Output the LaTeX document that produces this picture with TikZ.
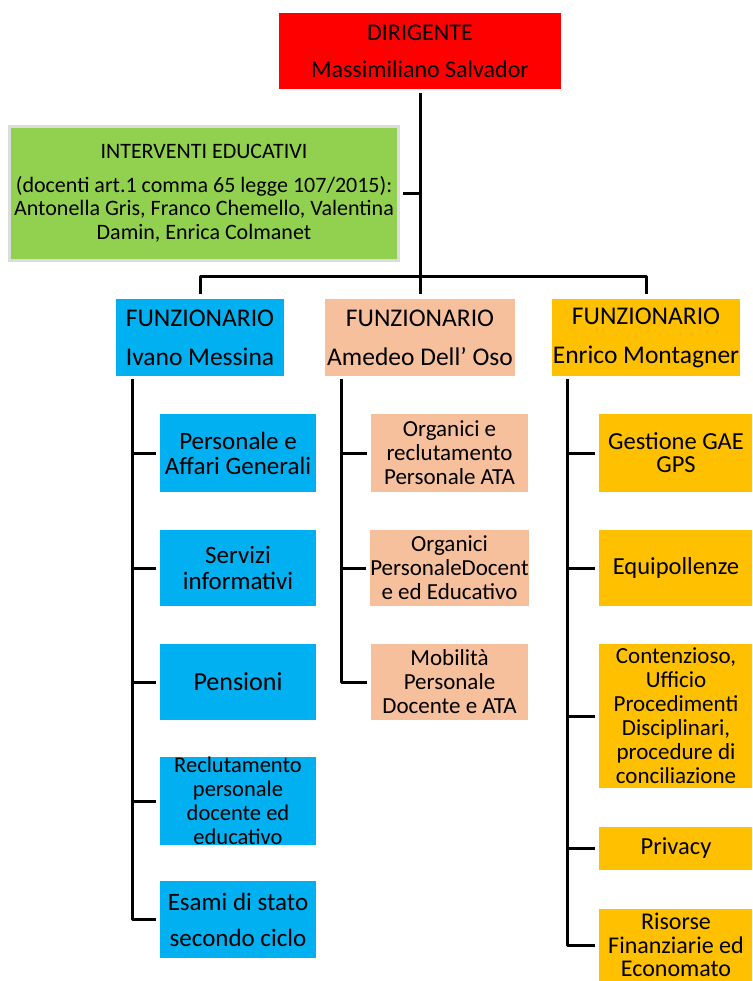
\documentclass[tikz,border=0pt]{standalone}
\usepackage{fontspec}
\setmainfont{Carlito}
\definecolor{cRed}{HTML}{FF0000}
\definecolor{cGreen}{HTML}{92D050}
\definecolor{cBlue}{HTML}{00B0F0}
\definecolor{cPeach}{HTML}{F6C09C}
\definecolor{cOrange}{HTML}{FFC000}
\definecolor{cBorder}{HTML}{DCDCDC}
\begin{document}
\begin{tikzpicture}[x=1pt,y=-1pt,
  box/.style={rectangle, inner sep=0pt, align=center, text=black},
  conn/.style={line width=3pt, line join=round, line cap=butt, draw=black},
  fhead/.style={font=\fontsize{25.5}{39}\selectfont},
  bluebox/.style={box, fill=cBlue},
  peachbox/.style={box, fill=cPeach},
  orangebox/.style={box, fill=cOrange}
]
\useasboundingbox (0,0) rectangle (752,981);
\clip (0,0) rectangle (752,981);
\fill[white] (0,0) rectangle (752,981);

% top
\node[box, fill=cRed, minimum width=282, minimum height=76,
      font=\fontsize{24}{37}\selectfont] (dir) at (420,51)
      {DIRIGENTE\\Massimiliano Salvador};
\node[box, fill=cGreen, draw=cBorder, line width=3pt, minimum width=389, minimum height=134,
      font=\fontsize{22}{23.5}\selectfont] (edu) at (204,193.5)
      {INTERVENTI EDUCATIVI\\[10pt](docenti art.1 comma 65 legge 107/2015):\\Antonella Gris, Franco Chemello, Valentina\\Damin, Enrica Colmanet};

% funzionari
\node[bluebox, fhead, minimum width=168, minimum height=77] (f1) at (200,337.5)
      {FUNZIONARIO\\Ivano Messina};
\node[peachbox, fhead, minimum width=190, minimum height=77] (f2) at (420,337.5)
      {FUNZIONARIO\\Amedeo Dell’ Oso};
\node[orangebox, fhead, minimum width=188, minimum height=77] (f3) at (646,337.5)
      {FUNZIONARIO\\Enrico Montagner};

% blue children
\node[bluebox, font=\fontsize{25}{25}\selectfont, minimum width=156, minimum height=78] (b1) at (238,453) {Personale e\\Affari Generali};
\node[bluebox, font=\fontsize{25}{26}\selectfont, minimum width=156, minimum height=76] (b2) at (238,568) {Servizi\\informativi};
\node[bluebox, font=\fontsize{26}{26}\selectfont, minimum width=156, minimum height=76] (b3) at (238,682) {Pensioni};
\node[bluebox, font=\fontsize{22.5}{24}\selectfont, minimum width=156, minimum height=86] (b4) at (238,801) {Reclutamento\\personale\\docente ed\\educativo};
\node[bluebox, font=\fontsize{25}{36}\selectfont, minimum width=156, minimum height=77] (b5) at (238,919.5) {Esami di stato\\secondo ciclo};

% peach children
\node[peachbox, font=\fontsize{23}{24}\selectfont, minimum width=157, minimum height=78] (p1) at (449.5,453) {Organici e\\reclutamento\\Personale ATA};
\node[peachbox, font=\fontsize{23}{24}\selectfont, minimum width=157, minimum height=76] (p2) at (449.5,568) {Organici\\PersonaleDocent\\e ed Educativo};
\node[peachbox, font=\fontsize{23}{24}\selectfont, minimum width=157, minimum height=76] (p3) at (449.5,682) {Mobilità\\Personale\\Docente e ATA};

% orange children
\node[orangebox, font=\fontsize{24.5}{23}\selectfont, minimum width=154, minimum height=78] (o1) at (676,453) {Gestione GAE\\GPS};
\node[orangebox, font=\fontsize{24.5}{24}\selectfont, minimum width=154, minimum height=76] (o2) at (676,568) {Equipollenze};
\node[orangebox, font=\fontsize{23}{24}\selectfont, minimum width=154, minimum height=144] (o3) at (676,716) {Contenzioso,\\Ufficio\\Procedimenti\\Disciplinari,\\procedure di\\conciliazione};
\node[orangebox, font=\fontsize{24.5}{24}\selectfont, minimum width=154, minimum height=43] (o4) at (676,848.5) {Privacy};
\node[orangebox, font=\fontsize{24}{23.5}\selectfont, minimum width=154, minimum height=72] (o5) at (676,945) {Risorse\\Finanziarie ed\\Economato};

% connectors
\coordinate (bar) at (420,277);
\draw[conn] ([yshift=-4pt]dir.south) -- (bar);
\draw[conn] ([xshift=3pt]edu.east) -- (edu.east -| bar);
\draw[conn] ([yshift=5pt]f1.north) |- (bar) -| ([yshift=5pt]f3.north);
\draw[conn] (bar) -- ([yshift=5pt]f2.north);

\coordinate (s1) at (132,379);
\coordinate (s2) at (341,379);
\coordinate (s3) at (567,379);
\draw[conn] (s1) |- ([xshift=-4pt]b5.west);
\foreach \n in {b1,b2,b3,b4}
  \draw[conn] (\n.west -| s1) -- ([xshift=-4pt]\n.west);
\draw[conn] (s2) |- ([xshift=-4pt]p3.west);
\foreach \n in {p1,p2}
  \draw[conn] (\n.west -| s2) -- ([xshift=-4pt]\n.west);
\draw[conn] (s3) |- ([xshift=-4pt]o5.west);
\foreach \n in {o1,o2,o3,o4}
  \draw[conn] (\n.west -| s3) -- ([xshift=-4pt]\n.west);
\end{tikzpicture}
\end{document}
